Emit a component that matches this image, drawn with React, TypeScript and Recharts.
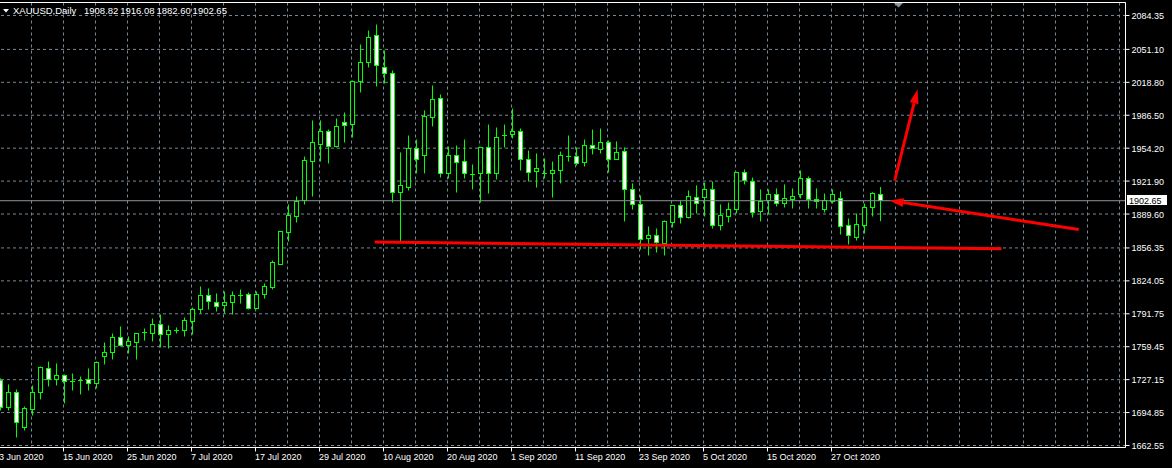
import React from 'react';
import { Bar, CartesianGrid, ComposedChart, ReferenceLine, XAxis, YAxis } from 'recharts';

const symbolTitle = 'XAUUSD,Daily';
const lastQuote = [1908.82, 1916.08, 1882.6, 1902.65];

const dateLabels = [
  '3 Jun 2020', '15 Jun 2020', '25 Jun 2020', '7 Jul 2020', '17 Jul 2020', '29 Jul 2020', '10 Aug 2020',
  '20 Aug 2020', '1 Sep 2020', '11 Sep 2020', '23 Sep 2020', '5 Oct 2020', '15 Oct 2020', '27 Oct 2020',
];
const barsPerLabel = 8;
const barsPerGrid = 4;
const emptyBars = 30; // chart shift area on the right

const priceTicks = [
  2084.35, 2051.1, 2018.8, 1986.5, 1954.2, 1921.9, 1889.6, 1856.35, 1824.05, 1791.75, 1759.45, 1727.15, 1694.85, 1662.55,
];
const priceRange = [1660.59, 2097.1];

const opens = [
  1726.3, 1699.8, 1714.5, 1680.2, 1697.9, 1714.5, 1738.1, 1727.3, 1731.2, 1725.3,
  1726.3, 1727.3, 1723.4, 1749.9, 1753.8, 1768.5, 1760.6, 1763.6, 1773.4, 1772.4,
  1781.2, 1771.4, 1775.4, 1775.4, 1784.2, 1796.0, 1809.7, 1802.8, 1799.9, 1802.8,
  1809.7, 1810.7, 1796.9, 1810.7, 1817.5, 1840.1, 1871.5, 1887.2, 1902.9, 1941.1,
  1957.8, 1970.6, 1955.8, 1979.4, 1977.4, 2019.6, 2038.2, 2064.7, 2033.3, 2027.5,
  1910.7, 1915.6, 1953.9, 1947.0, 1984.3, 2002.9, 1929.4, 1947.0, 1941.1, 1928.4,
  1929.4, 1954.9, 1929.4, 1966.6, 1967.6, 1970.6, 1943.1, 1931.3, 1929.4, 1929.4,
  1932.3, 1946.0, 1946.0, 1940.2, 1956.8, 1952.9, 1959.8, 1943.1, 1950.9, 1913.7,
  1899.0, 1865.6, 1868.5, 1860.7, 1881.3, 1898.0, 1886.2, 1905.8, 1905.8, 1913.7,
  1878.4, 1887.2, 1894.0, 1930.3, 1921.5, 1892.1, 1902.9, 1908.8, 1899.9, 1903.9,
  1908.8, 1924.5, 1903.9, 1894.0, 1901.9, 1904.8, 1878.4, 1866.6, 1878.4, 1896.0,
  1908.82,
];
const highs = [
  1728.3, 1722.4, 1717.5, 1700.8, 1721.4, 1740.0, 1744.9, 1743.0, 1732.2, 1733.2,
  1730.2, 1738.1, 1745.0, 1763.6, 1772.4, 1779.3, 1769.5, 1773.0, 1777.3, 1787.1,
  1791.0, 1780.3, 1778.3, 1788.1, 1797.9, 1818.5, 1816.6, 1811.7, 1813.6, 1813.6,
  1815.6, 1812.6, 1813.6, 1821.5, 1844.0, 1873.0, 1899.0, 1906.8, 1946.0, 1981.4,
  1981.4, 1972.5, 1983.3, 1989.2, 2020.6, 2055.9, 2069.6, 2075.5, 2050.0, 2030.4,
  1950.0, 1966.6, 1962.7, 1991.2, 2015.7, 2006.9, 1955.8, 1956.8, 1962.7, 1938.2,
  1955.5, 1977.4, 1974.5, 1977.4, 1993.1, 1973.5, 1951.9, 1949.0, 1944.1, 1941.1,
  1950.9, 1966.6, 1954.9, 1962.7, 1972.5, 1973.5, 1961.7, 1960.8, 1954.9, 1919.6,
  1907.8, 1877.4, 1875.4, 1883.3, 1898.5, 1902.9, 1912.7, 1917.6, 1920.5, 1921.5,
  1899.0, 1900.9, 1931.0, 1933.3, 1925.4, 1913.7, 1913.7, 1914.7, 1918.6, 1914.7,
  1932.3, 1926.4, 1914.7, 1909.7, 1913.7, 1911.7, 1885.2, 1890.1, 1899.9, 1911.0,
  1916.08,
];
const lows = [
  1696.9, 1696.9, 1670.4, 1677.3, 1692.0, 1707.7, 1720.4, 1721.4, 1703.8, 1716.5,
  1712.6, 1716.5, 1718.5, 1742.0, 1746.9, 1759.7, 1752.8, 1746.9, 1765.5, 1764.6,
  1758.7, 1757.7, 1772.4, 1769.5, 1771.4, 1792.0, 1796.0, 1794.0, 1792.0, 1791.0,
  1801.8, 1796.0, 1796.0, 1806.7, 1815.6, 1839.5, 1862.7, 1881.3, 1899.0, 1906.8,
  1941.1, 1939.2, 1954.9, 1959.8, 1964.7, 2008.8, 2033.3, 2014.7, 2017.6, 1900.9,
  1862.7, 1912.7, 1929.4, 1929.4, 1975.5, 1925.4, 1924.5, 1910.7, 1924.5, 1913.7,
  1900.9, 1909.7, 1923.5, 1954.9, 1963.7, 1932.3, 1921.5, 1915.6, 1924.5, 1905.8,
  1919.6, 1941.1, 1937.2, 1936.2, 1948.0, 1949.0, 1930.3, 1942.6, 1882.3, 1894.0,
  1854.8, 1848.9, 1851.9, 1848.9, 1876.4, 1880.3, 1885.2, 1890.1, 1887.2, 1875.4,
  1873.5, 1881.3, 1890.1, 1918.6, 1886.2, 1882.3, 1889.1, 1897.0, 1896.0, 1895.0,
  1904.8, 1895.0, 1895.0, 1891.1, 1899.9, 1869.5, 1859.7, 1863.6, 1870.5, 1887.2,
  1882.6,
];
const closes = [
  1699.8, 1714.5, 1685.1, 1698.8, 1714.5, 1739.1, 1727.3, 1731.2, 1725.3, 1725.3,
  1726.3, 1723.4, 1744.0, 1753.8, 1768.5, 1760.6, 1764.6, 1772.4, 1773.4, 1781.2,
  1771.4, 1775.4, 1775.4, 1785.2, 1796.0, 1809.7, 1803.8, 1798.9, 1802.8, 1809.7,
  1809.7, 1796.9, 1810.7, 1818.5, 1842.1, 1872.5, 1888.2, 1901.9, 1942.1, 1959.8,
  1970.6, 1955.8, 1975.5, 1976.4, 2019.6, 2038.2, 2062.8, 2035.3, 2027.5, 1910.7,
  1917.6, 1953.9, 1943.1, 1985.3, 2002.0, 1929.4, 1947.0, 1940.2, 1929.4, 1928.4,
  1954.9, 1929.4, 1964.7, 1966.6, 1970.6, 1943.1, 1930.3, 1934.3, 1929.4, 1932.3,
  1947.0, 1946.0, 1939.2, 1956.8, 1953.9, 1959.8, 1943.1, 1950.0, 1913.7, 1899.0,
  1864.6, 1868.5, 1861.7, 1882.3, 1898.0, 1886.2, 1906.8, 1899.9, 1913.7, 1878.4,
  1888.2, 1894.0, 1930.3, 1922.5, 1891.1, 1901.9, 1908.8, 1899.9, 1904.8, 1906.8,
  1924.5, 1903.9, 1901.9, 1902.9, 1908.8, 1877.4, 1868.5, 1879.3, 1896.0, 1909.7,
  1902.65,
];

// drawings, in bar index / price
const supportLine = [{ bar: 46.9, price: 1862.2 }, { bar: 125.25, price: 1855.5 }];
const upArrow = [{ bar: 111.9, price: 1922.5 }, { bar: 114.75, price: 2011.8 }];
const backArrow = [{ bar: 134.9, price: 1874.4 }, { bar: 111.25, price: 1902.9 }];

type Row = { i: number; o?: number; h?: number; l?: number; c?: number };

const rows: Row[] = Array.from({ length: opens.length + emptyBars }, (_, i) => ({
  i,
  o: opens[i],
  h: highs[i],
  l: lows[i],
  c: closes[i],
}));
const gridTicks = rows.filter(r => r.i % barsPerGrid === 0).map(r => r.i);

const FONT = "'Liberation Sans', Arial, sans-serif";
const LIME = '#00ff00';
const RED = '#ff0000';

function Candle(props: any) {
  const { x, y, width, height, payload } = props;
  if (!payload || payload.h == null) return <g />;
  const cx = Math.floor(x + width / 2) + 0.5;
  const k = height / (payload.h - payload.l || 1);
  const top = y + (payload.h - Math.max(payload.o, payload.c)) * k;
  const bot = y + (payload.h - Math.min(payload.o, payload.c)) * k;
  const bt = Math.floor(top) + 0.5;
  const bb = Math.floor(bot) + 0.5;
  const bear = payload.c < payload.o;
  return (
    <g>
      <line x1={cx} y1={y} x2={cx} y2={y + height} stroke={LIME} strokeWidth={1} />
      {bb - bt < 1 ? (
        <line x1={cx - 2.5} y1={bt} x2={cx + 2.5} y2={bt} stroke={LIME} strokeWidth={1} />
      ) : (
        <rect x={cx - 2} y={bt} width={4} height={bb - bt} fill={bear ? '#ffffff' : '#000000'} stroke={LIME} strokeWidth={1} />
      )}
    </g>
  );
}

function DateTick(props: any) {
  const { x, y, payload } = props;
  const idx = Number(payload.value);
  const label = idx % barsPerLabel === 0 ? dateLabels[idx / barsPerLabel] : undefined;
  if (!label) return <g />;
  return (
    <g>
      <line x1={x} y1={y} x2={x} y2={y + 4} stroke="#ffffff" />
      <text x={x - 0.5} y={y + 12} fill="#ffffff" fontSize={9} fontFamily={FONT}>
        {label}
      </text>
    </g>
  );
}

function PriceTick(props: any) {
  const { x, y, payload } = props;
  return (
    <text x={x} y={y + 3.5} fill="#ffffff" fontSize={9} fontFamily={FONT} textAnchor="start">
      {Number(payload.value).toFixed(2)}
    </text>
  );
}

function PriceBox(props: any) {
  const vb = props.viewBox || {};
  const bx = vb.x + vb.width + 1.5;
  const by = Math.floor(vb.y) - 5;
  return (
    <g>
      <rect x={bx} y={by} width={40} height={10} fill="#ffffff" />
      <text x={bx + 2} y={by + 8.5} fill="#000000" fontSize={9} fontFamily={FONT}>
        {lastQuote[3].toFixed(2)}
      </text>
    </g>
  );
}

function Arrow(props: any) {
  const { x1, y1, x2, y2 } = props;
  const len = Math.hypot(x2 - x1, y2 - y1) || 1;
  const ux = (x2 - x1) / len;
  const uy = (y2 - y1) / len;
  const head = 14;
  const half = 4.5;
  const bx = x2 - ux * head;
  const by = y2 - uy * head;
  return (
    <g>
      <line x1={x1} y1={y1} x2={bx} y2={by} stroke={RED} strokeWidth={3} />
      <polygon
        points={`${x2},${y2} ${bx - uy * half},${by + ux * half} ${bx + uy * half},${by - ux * half}`}
        fill={RED}
      />
    </g>
  );
}

const seg = (pts: { bar: number; price: number }[]) => pts.map(p => ({ x: p.bar, y: p.price }));

export default function App() {
  return (
    <div
      style={{ position: 'absolute', left: 0, top: 0, width: 1172, height: 468, background: '#000', overflow: 'hidden' }}
    >
      <ComposedChart
        width={1177}
        height={468}
        data={rows}
        margin={{ top: 2.5, right: 0, bottom: 0, left: 0 }}
        style={{ position: 'absolute', left: -5, top: 0 }}
      >
        <CartesianGrid stroke="#778899" strokeDasharray="3 3" />
        <XAxis
          dataKey="i"
          type="category"
          ticks={gridTicks}
          interval={0}
          padding={{ left: 0.5, right: 2 }}
          height={20.5}
          tickSize={0}
          tickMargin={0}
          tickLine={false}
          axisLine={{ stroke: '#ffffff' }}
          tick={<DateTick />}
        />
        <XAxis xAxisId="n" dataKey="i" type="number" domain={[-0.5, 140.5]} padding={{ left: 0.5, right: 2 }} allowDataOverflow hide />
        <YAxis
          orientation="right"
          type="number"
          width={46.5}
          domain={priceRange}
          ticks={priceTicks}
          interval={0}
          allowDataOverflow
          tickSize={4}
          tickMargin={2}
          tickLine={{ stroke: '#ffffff' }}
          axisLine={{ stroke: '#ffffff' }}
          tick={<PriceTick />}
        />
        <ReferenceLine y={priceRange[1]} stroke="#ffffff" ifOverflow="visible" />
        <ReferenceLine y={lastQuote[3]} stroke="#8c949c" label={(p: any) => <PriceBox {...p} />} />
        <Bar
          dataKey={(d: Row) => (d.h == null ? null : [d.l, d.h])}
          barSize={5}
          shape={<Candle />}
          isAnimationActive={false}
        />
        <ReferenceLine xAxisId="n" segment={seg(supportLine)} stroke={RED} strokeWidth={3} />
        <ReferenceLine xAxisId="n" segment={seg(upArrow)} shape={<Arrow />} />
        <ReferenceLine xAxisId="n" segment={seg(backArrow)} shape={<Arrow />} />
      </ComposedChart>
      <svg width={1172} height={468} style={{ position: 'absolute', left: 0, top: 0, pointerEvents: 'none' }}>
        <polygon points="3,9 9,9 6,12.5" fill="#ffffff" />
        <text y={14} fill="#ffffff" fontSize={9.5} fontFamily={FONT}>
          <tspan x={13}>{symbolTitle}</tspan>
          {lastQuote.map((v, k) => (
            <tspan key={k} x={84 + k * 36.2}>
              {v.toFixed(2)}
            </tspan>
          ))}
        </text>
        <polygon points="894,3 903,3 898.5,7.5" fill="#8a96a2" />
      </svg>
    </div>
  );
}
